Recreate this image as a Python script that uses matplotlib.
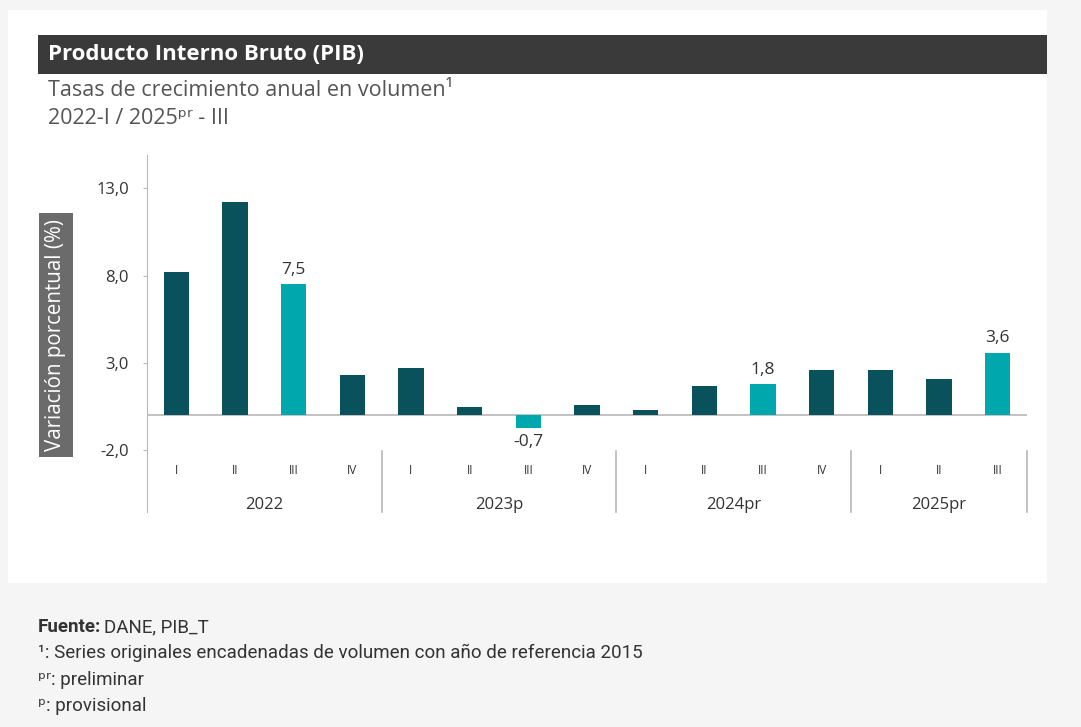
import numpy as np
import matplotlib.pyplot as plt
from matplotlib.patches import Rectangle

# data
years = ['2022', '2023p', '2024pr', '2025pr']
quarters = ['I', 'II', 'III', 'IV', 'I', 'II', 'III', 'IV',
            'I', 'II', 'III', 'IV', 'I', 'II', 'III']
growth = [8.2, 12.2, 7.5, 2.3, 2.7, 0.5, -0.7, 0.6,
          0.3, 1.7, 1.8, 2.6, 2.6, 2.1, 3.6]
highlight = [2, 6, 10, 14]  # third quarters get the light colour and a label

dark = '#0a525b'
light = '#00a8ad'

W, H = 1081, 727
fig = plt.figure(figsize=(W / 100, H / 100), dpi=100)
fig.patch.set_facecolor('#f5f5f5')

def px(x, y):
    # pixel (from top-left) -> figure fraction
    return x / W, 1 - y / H

# white panel and the dark title bar
fig.patches.append(Rectangle(px(8, 583), 1039 / W, 573 / H, transform=fig.transFigure,
                             facecolor='white', edgecolor='none', zorder=-3))
fig.patches.append(Rectangle(px(38, 74), 1009 / W, 39 / H, transform=fig.transFigure,
                             facecolor='#3a3a3a', edgecolor='none', zorder=-2))

fam = ['Open Sans', 'DejaVu Sans']
fig.text(*px(48, 55), 'Producto Interno Bruto (PIB)', color='white', fontsize=16,
         fontweight='bold', family=fam, va='center')
fig.text(*px(48, 90), 'Tasas de crecimiento anual en volumen\u00b9', color='#555555',
         fontsize=15.5, family=fam, va='center')
fig.text(*px(48, 118), '2022-I / 2025\u1d56\u02b3 - III', color='#555555',
         fontsize=15.5, family=fam, va='center')

# plot area
zero_px, unit_px = 415.4, 17.46
top_px, bot_px = 155, 512
ax = fig.add_axes([147 / W, 1 - bot_px / H, 880 / W, (bot_px - top_px) / H])
ax.set_facecolor('none')
ax.set_xlim(-0.5, 14.5)
ax.set_ylim(-(bot_px - zero_px) / unit_px, (zero_px - top_px) / unit_px)

x = np.arange(len(growth))
colors = [light if i in highlight else dark for i in x]
ax.bar(x, growth, width=0.43, color=colors, zorder=3)
ax.axhline(0, color='#b8b8b8', lw=1.2, zorder=2)

for i in highlight:
    v = growth[i]
    lab = f'{v:.1f}'.replace('.', ',')
    if v >= 0:
        ax.text(i, v + 0.35, lab, ha='center', va='bottom', fontsize=12.5, color='#333333', family=fam)
    else:
        ax.text(i, v - 0.35, lab, ha='center', va='top', fontsize=12.5, color='#333333', family=fam)

ax.set_yticks([-2, 3, 8, 13])
ax.set_yticklabels(['-2,0', '3,0', '8,0', '13,0'], family=fam, fontsize=12, color='#333333')
ax.tick_params(axis='y', length=3, color='#b8b8b8', pad=10)
ax.set_xticks([])
for s in ['top', 'right', 'bottom']:
    ax.spines[s].set_visible(False)
ax.spines['left'].set_color('#b8b8b8')

# category labels under the zero line
y_q = (zero_px - 471) / unit_px
y_y = (zero_px - 505) / unit_px
y_sep = (zero_px - 451) / unit_px
for i, q in enumerate(quarters):
    ax.text(i, y_q, q, ha='center', va='center', fontsize=8.5, color='#333333', family=fam)
for k, yr in enumerate(years):
    ax.text(4 * k + 1.5 if k < 3 else 13, y_y, yr, ha='center', va='center',
            fontsize=12, color='#333333', family=fam)
for sx in [3.5, 7.5, 11.5, 14.5]:
    ax.plot([sx, sx], [y_sep, ax.get_ylim()[0]], color='#b8b8b8', lw=1.2, clip_on=False)

# y label box
fig.text(*px(56, 335), 'Variación porcentual (%)', rotation=90, ha='center', va='center',
         color='white', fontsize=14.8, family=fam,
         bbox=dict(boxstyle='square,pad=0.3', facecolor='#6b6b6b', edgecolor='none'))

# footnotes
rob = ['Roboto', 'DejaVu Sans']
fs = 13.5
fig.text(*px(38, 627), 'Fuente:', fontsize=fs, fontweight='bold', color='#333333', family=rob, va='center')
fig.text(*px(104, 627), 'DANE, PIB_T', fontsize=fs, color='#333333', family=rob, va='center')
fig.text(*px(38, 653), '\u00b9: Series originales encadenadas de volumen con año de referencia 2015',
         fontsize=fs, color='#333333', family=rob, va='center')
fig.text(*px(38, 680), '\u1d56\u02b3: preliminar', fontsize=fs, color='#333333', family=rob, va='center')
fig.text(*px(38, 706), '\u1d56: provisional', fontsize=fs, color='#333333', family=rob, va='center')

fig.savefig('out.png', dpi=100, facecolor=fig.get_facecolor())
